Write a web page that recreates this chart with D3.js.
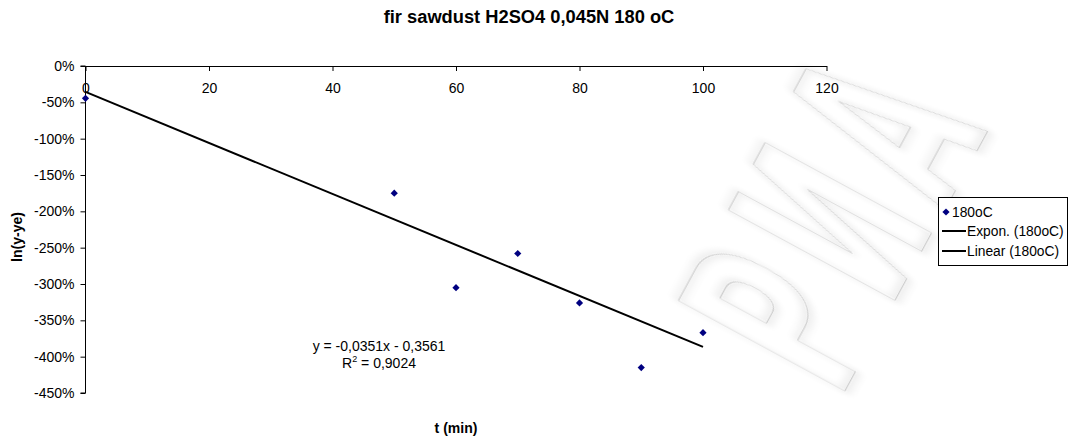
<!DOCTYPE html>
<html>
<head>
<meta charset="utf-8">
<script src="https://cdn.jsdelivr.net/npm/d3@7"></script>
<style>
  html, body { margin: 0; padding: 0; background: #fff; }
  svg { display: block; font-family: "Liberation Sans", Arial, sans-serif; }
</style>
</head>
<body>
<svg id="chart" width="1076" height="439"></svg>
<script>
// Reaction time (min) and ln(y-ye) readings for fir sawdust at 180 oC
const times = [0, 50, 60, 70, 80, 90, 100];
const lnValues = [-0.445, -1.75, -3.05, -2.58, -3.26, -4.15, -3.67];

// Axis ticks
const xTicks = [0, 20, 40, 60, 80, 100, 120];
const yTicks = [0, -0.5, -1, -1.5, -2, -2.5, -3, -3.5, -4, -4.5];

// Linear trendline coefficients as printed on the chart
const trendSlope = -0.0351;
const trendIntercept = -0.3561;
const rSquared = "0,9024";
const trendRange = [0, 100];

const titleText = "fir sawdust H2SO4 0,045N 180 oC";
const xTitle = "t (min)";
const yTitle = "ln(y-ye)";
const legendLabels = ["180oC", "Expon. (180oC)", "Linear (180oC)"];
const watermarkLetters = ["Р", "И", "А"];

const svg = d3.select("#chart");

// Faint hollow watermark letters behind the plot, with a soft grey glow
const defs = svg.append("defs");
const glow = defs.append("filter").attr("id", "glow")
  .attr("x", "-30%").attr("y", "-30%").attr("width", "160%").attr("height", "160%");
glow.append("feMorphology").attr("in", "SourceAlpha").attr("operator", "dilate").attr("radius", 3).attr("result", "thick");
glow.append("feGaussianBlur").attr("in", "thick").attr("stdDeviation", 6).attr("result", "blur");
glow.append("feComponentTransfer").attr("in", "blur").attr("result", "soft")
  .append("feFuncA").attr("type", "linear").attr("slope", 0.12);
const merge = glow.append("feMerge");
merge.append("feMergeNode").attr("in", "soft");
merge.append("feMergeNode").attr("in", "SourceGraphic");

const wmCentres = [[778, 318], [831, 222], [884, 126]];
const wm = svg.append("g");
watermarkLetters.forEach((ch, i) => {
  wm.append("text")
    .attr("transform", `translate(${wmCentres[i][0]},${wmCentres[i][1]}) rotate(-61.5) scale(0.45,1)`)
    .attr("text-anchor", "middle")
    .attr("dy", "0.36em")
    .attr("font-family", "DejaVu Sans")
    .attr("font-weight", "bold")
    .attr("font-size", 260)
    .attr("fill", "none")
    .attr("stroke", "#cdcdcd")
    .attr("stroke-width", 1.3)
    .attr("filter", "url(#glow)")
    .text(ch);
});

// Scales
const x = d3.scaleLinear().domain([0, 120]).range([85.5, 826.5]);
const y = d3.scaleLinear().domain([0, -4.5]).range([66, 393]);

const pct = v => Math.round(v * 100) + "%";
const axisFont = "Liberation Sans, Arial, sans-serif";

// Y axis (left)
const yAxis = svg.append("g")
  .attr("transform", `translate(${x(0)},0)`)
  .call(d3.axisLeft(y).tickValues(yTicks).tickFormat(pct).tickSize(5).tickPadding(6));
yAxis.select(".domain").attr("stroke", "#000").attr("d", `M-5,${y(0)}H0V${y(-4.5)}H-5`);
yAxis.selectAll("text").attr("font-size", 14).attr("font-family", axisFont).attr("fill", "#000");

// X axis drawn along the zero line, ticks pointing down
const xAxis = svg.append("g")
  .attr("transform", `translate(0,${y(0)})`)
  .call(d3.axisBottom(x).tickValues(xTicks).tickSize(5).tickPadding(12).tickSizeOuter(0));
xAxis.select(".domain").attr("stroke", "#000");
xAxis.selectAll("text").attr("font-size", 14).attr("font-family", axisFont).attr("fill", "#000");

// Linear trendline
const line = d3.line().x(d => x(d)).y(d => y(trendSlope * d + trendIntercept));
svg.append("path")
  .datum(trendRange)
  .attr("d", line)
  .attr("fill", "none")
  .attr("stroke", "#000")
  .attr("stroke-width", 2);

// Data markers (small square diamonds)
const diamond = "M0,-3.6L3.6,0L0,3.6L-3.6,0Z";
svg.append("g").selectAll("path")
  .data(times.map((t, i) => [t, lnValues[i]]))
  .join("path")
  .attr("d", diamond)
  .attr("transform", d => `translate(${x(d[0])},${y(d[1])})`)
  .attr("fill", "#000080");

// Trendline equation
const fmt = v => String(v).replace(".", ",");
const eq = svg.append("text")
  .attr("text-anchor", "middle")
  .attr("font-size", 14)
  .attr("fill", "#000");
eq.append("tspan").attr("x", 379).attr("y", 351)
  .text(`y = ${fmt(trendSlope)}x - ${fmt(-trendIntercept)}`);
const r2 = eq.append("tspan").attr("x", 379).attr("y", 368);
r2.append("tspan").text("R");
r2.append("tspan").attr("font-size", 9).attr("dy", -6).text("2");
r2.append("tspan").attr("dy", 6).text(` = ${rSquared}`);

// Titles
svg.append("text")
  .attr("x", 529).attr("y", 23)
  .attr("text-anchor", "middle")
  .attr("font-weight", "bold")
  .attr("font-size", 18.3)
  .text(titleText);

svg.append("text")
  .attr("x", 456).attr("y", 433)
  .attr("text-anchor", "middle")
  .attr("font-weight", "bold")
  .attr("font-size", 14)
  .text(xTitle);

svg.append("text")
  .attr("transform", "translate(22,237) rotate(-90)")
  .attr("text-anchor", "middle")
  .attr("font-weight", "bold")
  .attr("font-size", 14)
  .text(yTitle);

// Legend
const legend = svg.append("g");
legend.append("rect")
  .attr("x", 938.5).attr("y", 197.5).attr("width", 129).attr("height", 68)
  .attr("fill", "#fff").attr("stroke", "#000").attr("stroke-width", 1);
const rowY = [212, 231, 251];
legend.append("path")
  .attr("d", diamond)
  .attr("transform", `translate(946,${rowY[0]})`)
  .attr("fill", "#000080");
[1, 2].forEach(i => {
  legend.append("line")
    .attr("x1", 942).attr("x2", 966)
    .attr("y1", rowY[i]).attr("y2", rowY[i])
    .attr("stroke", "#000").attr("stroke-width", 2);
});
legendLabels.forEach((lab, i) => {
  legend.append("text")
    .attr("x", i === 0 ? 952 : 967)
    .attr("y", rowY[i] + 5)
    .attr("font-size", 13.8)
    .text(lab);
});
</script>
</body>
</html>
